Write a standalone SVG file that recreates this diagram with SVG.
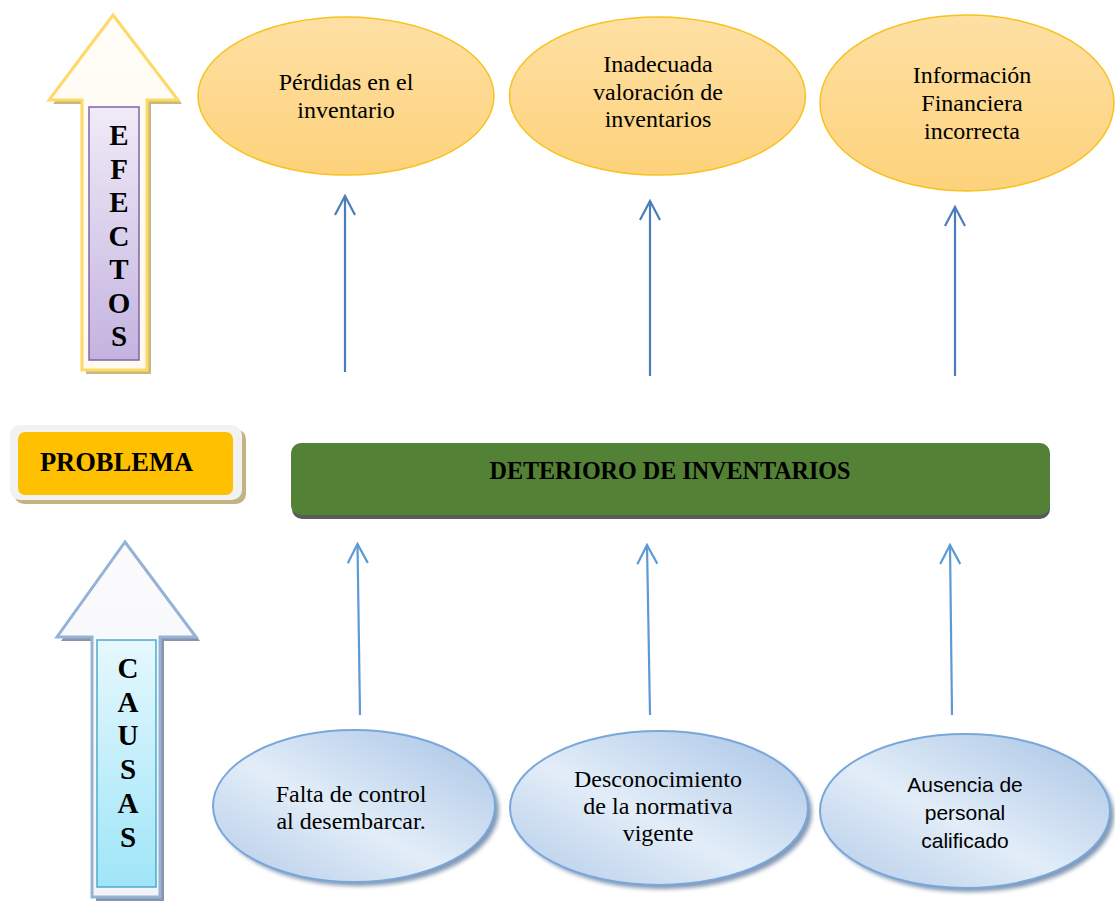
<svg xmlns="http://www.w3.org/2000/svg" width="1115" height="901" viewBox="0 0 1115 901">
<style>
.serif{font-family:"Liberation Serif","Times New Roman",serif;fill:#000;}
.sans{font-family:"Liberation Sans",Arial,sans-serif;fill:#000;}
.lbl{font-size:24px;text-anchor:middle;}
.vert{font-size:29px;font-weight:bold;text-anchor:middle;}
.eff{fill:url(#gEff);stroke:#f7c21e;stroke-width:1.5;}
.cau{fill:url(#gCau);stroke:#7aa7da;stroke-width:2;}
.cauShadow{fill:#8196b3;filter:url(#blur);}
.top{stroke:#4a7ebb;stroke-width:2.2;fill:none;marker-end:url(#mTop);}
.bot{stroke:#5b9bd5;stroke-width:2.2;fill:none;marker-end:url(#mBot);}
</style>
<defs>
<linearGradient id="gEff" x1="0" y1="0" x2="0" y2="1">
<stop offset="0" stop-color="#fee0a4"/><stop offset="1" stop-color="#fdd27b"/>
</linearGradient>
<linearGradient id="gCau" x1="0" y1="1" x2="1" y2="0">
<stop offset="0" stop-color="#b3cbe8"/><stop offset="0.45" stop-color="#e2edf8"/><stop offset="1" stop-color="#a7c3e5"/>
</linearGradient>
<linearGradient id="gPurple" x1="0" y1="0" x2="0" y2="1">
<stop offset="0" stop-color="#f0ebf8"/><stop offset="1" stop-color="#c4b3e0"/>
</linearGradient>
<linearGradient id="gCyan" x1="0" y1="0" x2="0" y2="1">
<stop offset="0" stop-color="#e6f8fd"/><stop offset="1" stop-color="#9fe5f8"/>
</linearGradient>
<linearGradient id="gArrowY" x1="0" y1="0" x2="0" y2="1">
<stop offset="0" stop-color="#fffdf6"/><stop offset="1" stop-color="#fffaf0"/>
</linearGradient>
<linearGradient id="gArrowB" x1="0" y1="0" x2="0" y2="1">
<stop offset="0" stop-color="#fbfbfd"/><stop offset="1" stop-color="#f2f4fa"/>
</linearGradient>
<filter id="blur" x="-10%" y="-10%" width="120%" height="120%"><feGaussianBlur stdDeviation="2"/></filter>
<marker id="mTop" viewBox="-22 -12 24 24" markerWidth="24" markerHeight="24" refX="0" refY="0" orient="auto" markerUnits="userSpaceOnUse">
<path d="M-19,-10 L0,0 L-19,10" fill="none" stroke="#4a7ebb" stroke-width="2.2"/>
</marker>
<marker id="mBot" viewBox="-22 -12 24 24" markerWidth="24" markerHeight="24" refX="0" refY="0" orient="auto" markerUnits="userSpaceOnUse">
<path d="M-19,-10 L0,0 L-19,10" fill="none" stroke="#5b9bd5" stroke-width="2.2"/>
</marker>
</defs>
<rect width="1115" height="901" fill="#ffffff"/>

<g id="efectos">
<path d="M113,15 L178,100 L147,100 L147,370 L82,370 L82,100 L49,100 Z" transform="translate(4,4)" fill="#c9b97c"/>
<path d="M113,15 L178,100 L147,100 L147,370 L82,370 L82,100 L49,100 Z" fill="url(#gArrowY)" stroke="#ffd966" stroke-width="3"/>
<rect x="89" y="107" width="50" height="253" fill="url(#gPurple)" stroke="#8064a2" stroke-width="1.5"/>
<text class="serif vert" x="119" y="145">E</text>
<text class="serif vert" x="119" y="178.5">F</text>
<text class="serif vert" x="119" y="212">E</text>
<text class="serif vert" x="119" y="245.5">C</text>
<text class="serif vert" x="119" y="279">T</text>
<text class="serif vert" x="119" y="312.5">O</text>
<text class="serif vert" x="119" y="346">S</text>
</g>

<g id="causas">
<path d="M125,542 L196,637 L160,637 L160,897 L92,897 L92,637 L57,637 Z" transform="translate(4,4)" fill="#8a93a8"/>
<path d="M125,542 L196,637 L160,637 L160,897 L92,897 L92,637 L57,637 Z" fill="url(#gArrowB)" stroke="#95b3d7" stroke-width="3"/>
<rect x="97" y="640" width="59" height="247" fill="url(#gCyan)" stroke="#4bacc6" stroke-width="1.5"/>
<text class="serif vert" x="128" y="678">C</text>
<text class="serif vert" x="128" y="712">A</text>
<text class="serif vert" x="128" y="745">U</text>
<text class="serif vert" x="128" y="779">S</text>
<text class="serif vert" x="128" y="813">A</text>
<text class="serif vert" x="128" y="847">S</text>
</g>

<g id="problema">
<rect x="14" y="429" width="232" height="75" rx="10" fill="#c4b483"/>
<rect x="10" y="425" width="232" height="75" rx="10" fill="#f2f2f2"/>
<rect x="18" y="432" width="215" height="63" rx="7" fill="#ffc000"/>
<text class="serif" x="116.5" y="471" font-size="26.5" font-weight="bold" text-anchor="middle">PROBLEMA</text>
</g>

<g id="deterioro">
<rect x="292" y="447" width="758" height="72" rx="10" fill="#5a5a5a"/>
<rect x="291" y="443" width="759" height="72" rx="10" fill="#538135"/>
<text class="serif" x="670" y="479" font-size="25" font-weight="bold" text-anchor="middle" textLength="361" lengthAdjust="spacingAndGlyphs">DETERIORO DE INVENTARIOS</text>
</g>

<g id="efecto1">
<ellipse class="eff" cx="346" cy="96" rx="148" ry="79"/>
<text class="serif lbl" x="346" y="90">Pérdidas en el</text>
<text class="serif lbl" x="346" y="118">inventario</text>
</g>
<g id="efecto2">
<ellipse class="eff" cx="657.5" cy="96" rx="148" ry="79"/>
<text class="serif lbl" x="658" y="72">Inadecuada</text>
<text class="serif lbl" x="658" y="100">valoración de</text>
<text class="serif lbl" x="658" y="127">inventarios</text>
</g>
<g id="efecto3">
<ellipse class="eff" cx="967" cy="103" rx="147" ry="88"/>
<text class="serif lbl" x="972" y="83">Información</text>
<text class="serif lbl" x="972" y="111">Financiera</text>
<text class="serif lbl" x="972" y="139">incorrecta</text>
</g>

<g id="causa1">
<ellipse class="cauShadow" cx="358" cy="810" rx="141" ry="76"/>
<ellipse class="cau" cx="354" cy="806" rx="141" ry="76"/>
<text class="serif lbl" x="351" y="802">Falta de control</text>
<text class="serif lbl" x="351" y="829">al desembarcar.</text>
</g>
<g id="causa2">
<ellipse class="cauShadow" cx="663" cy="812" rx="149" ry="77"/>
<ellipse class="cau" cx="659" cy="808" rx="149" ry="77"/>
<text class="serif lbl" x="658" y="787">Desconocimiento</text>
<text class="serif lbl" x="658" y="814">de la normativa</text>
<text class="serif lbl" x="658" y="841">vigente</text>
</g>
<g id="causa3">
<ellipse class="cauShadow" cx="969" cy="815" rx="145" ry="77"/>
<ellipse class="cau" cx="965" cy="811" rx="145" ry="77"/>
<text class="sans" x="965" y="792" font-size="21" text-anchor="middle">Ausencia de</text>
<text class="sans" x="965" y="820" font-size="21" text-anchor="middle">personal</text>
<text class="sans" x="965" y="848" font-size="21" text-anchor="middle">calificado</text>
</g>

<g id="connectors">
<line class="top" x1="345" y1="372" x2="345" y2="196"/>
<line class="top" x1="650" y1="376" x2="650" y2="201"/>
<line class="top" x1="955" y1="376" x2="955" y2="207"/>
<line class="bot" x1="360" y1="715" x2="357.5" y2="544"/>
<line class="bot" x1="650" y1="715" x2="647" y2="545"/>
<line class="bot" x1="952" y1="715" x2="950" y2="545"/>
</g>
</svg>
